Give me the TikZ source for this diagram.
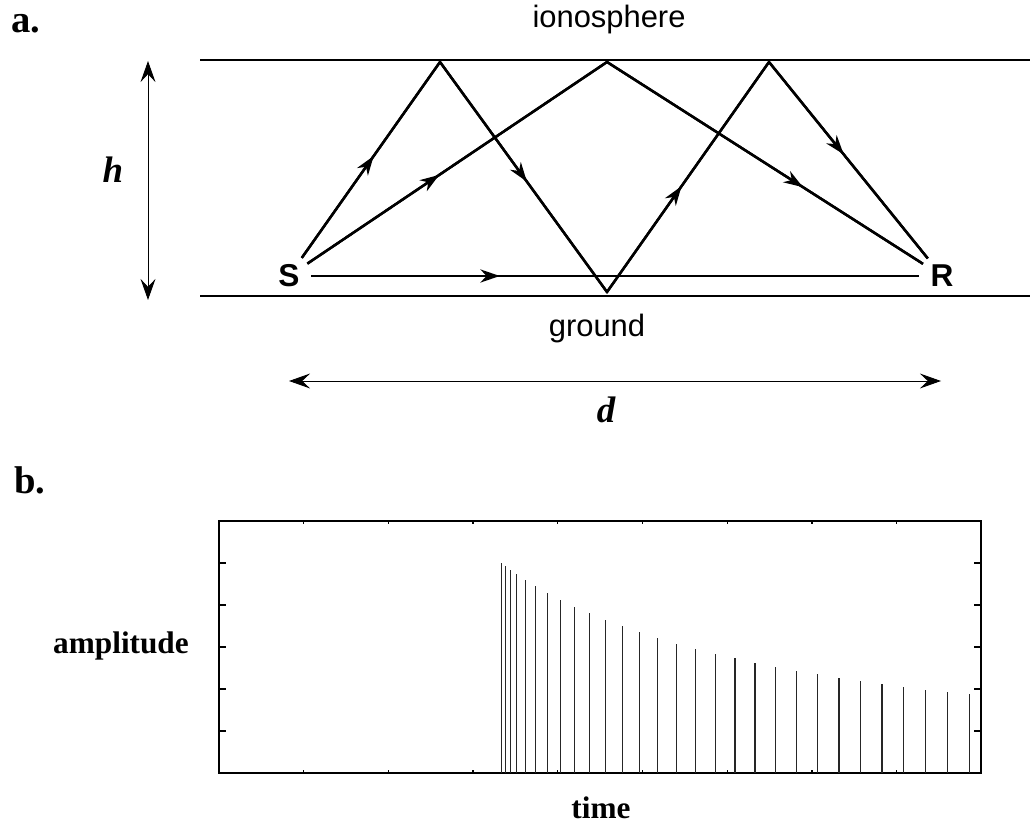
\documentclass[tikz,border=0pt]{standalone}
\usepackage{fontspec}
\setmainfont{Liberation Serif}
\setsansfont{Liberation Sans}
\usetikzlibrary{arrows.meta, decorations.markings, calc}
\tikzset{
  layerline/.style={line width=0.7pt},
  ray/.style={line width=1.4pt, line join=miter},
  midarrow/.style={
    postaction={decorate},
    decoration={markings,
      mark=at position #1 with {\arrow{Stealth[length=11pt,width=7.5pt,inset=3.5pt]}}}
  },
  dimarrow/.style={
    {Stealth[length=12pt,width=8.5pt,inset=4.5pt]}-{Stealth[length=12pt,width=8.5pt,inset=4.5pt]},
    line width=0.5pt
  },
  station/.style={circle, inner sep=2.6pt, font=\fontsize{18}{20}\selectfont\sffamily\bfseries},
  lbl/.style={font=\fontsize{17.6}{20}\selectfont\sffamily, anchor=base, inner sep=0pt},
  varlbl/.style={font=\fontsize{21}{24}\selectfont\bfseries\itshape, anchor=base, inner sep=0pt},
  axislbl/.style={font=\fontsize{17.8}{20}\selectfont\bfseries, anchor=base, inner sep=0pt},
  panellbl/.style={font=\fontsize{22}{24}\selectfont\bfseries, anchor=base, inner sep=0pt},
  frameline/.style={line width=0.75pt},
  spike/.style={line width=0.65pt, black!85}
}

\begin{document}
\begin{tikzpicture}[x=0.02cm, y=-0.02cm]
  \useasboundingbox (0,0) rectangle (1030,827);

  %% ---- a. : layers ----
  \node[panellbl] (pa) at (26,33) {a.};
  \coordinate (iono-l) at (200,60);
  \coordinate (iono-r) at (1030,60);
  \coordinate (gnd-l) at (200,296);
  \coordinate (gnd-r) at (1030,296);
  \draw[layerline] (iono-l) -- (iono-r);
  \draw[layerline] (gnd-l) -- (gnd-r);
  \node[lbl] (iono) at (609,28) {ionosphere};
  \node[lbl] (gnd) at (597,337) {ground};

  %% ---- source, receiver and bounce points ----
  \node[station] (S) at (289,276) {S};
  \node[station] (R) at (942,276) {R};
  \coordinate (top1) at (440,62);
  \coordinate (top2) at (607,62);
  \coordinate (bot)  at (607,292);
  \coordinate (top3) at (769,62);

  %% ---- rays ----
  \draw[ray] (S) -- (top1) -- (bot) -- (top3) -- (R);
  \draw[ray, midarrow=0.52] (S) -- (top1);
  \draw[ray, midarrow=0.52] (top1) -- (bot);
  \draw[ray, midarrow=0.46] (bot) -- (top3);
  \draw[ray, midarrow=0.47] (top3) -- (R);

  \draw[ray] (S) -- (top2) -- (R);
  \draw[ray, midarrow=0.44] (S) -- (top2);
  \draw[ray, midarrow=0.62] (top2) -- (R);

  \draw[ray, midarrow=0.31] (S) -- (R);

  %% ---- dimensions ----
  \coordinate (h-top) at (148,61);
  \coordinate (h-bot) at (148,300);
  \draw[dimarrow] (h-top) -- (h-bot);
  \node[varlbl] (h) at (113,183) {h};

  \coordinate (d-left) at (289,381);
  \coordinate (d-right) at (941,381);
  \draw[dimarrow] (d-left) -- (d-right);
  \node[varlbl] (d) at (606,422) {d};

  %% ---- b. : arrivals ----
  \node[panellbl] (pb) at (30,493) {b.};
  \coordinate (plot-sw) at (219,773);
  \coordinate (plot-ne) at (981,521);
  \draw[frameline] (plot-sw) rectangle (plot-ne);
  \foreach \tx in {1,...,8} {
    \draw[frameline] ($(plot-sw)+(84.7*\tx,0)$) -- ++(0,-3);
    \draw[frameline] ($(plot-sw |- plot-ne)+(84.7*\tx,0)$) -- ++(0,3);
  }
  \foreach \ty in {1,...,5} {
    \draw[frameline] ($(plot-sw)+(0,-42*\ty)$) -- ++(7,0);
    \draw[frameline] ($(plot-ne |- plot-sw)+(0,-42*\ty)$) -- ++(-7,0);
  }
  \foreach \sx/\sy in {501.7/563.3, 505.3/566, 510.3/570, 516.7/574, 525.7/580,
      535.7/586, 547.7/592.7, 560.3/600, 574.7/606.7, 589.3/613.3, 605.3/620,
      622.3/626.3, 639.7/632.3, 657.7/638.3, 676.3/644, 695.7/649, 715.3/654,
      735/658.3, 755/663, 775.7/667, 796.7/671, 817.7/674.3, 839/677.7,
      860.3/681, 882/684.3, 903.7/687, 925.3/689.7, 947.3/692.3, 969.3/694.3}
    \draw[spike] (\sx,773) -- (\sx,\sy);

  \node[axislbl] (amp) at (121,653) {amplitude};
  \node[axislbl] (time) at (601,818) {time};

\end{tikzpicture}
\end{document}
